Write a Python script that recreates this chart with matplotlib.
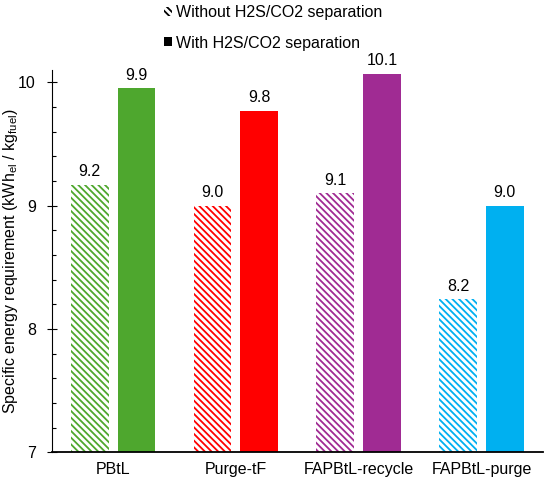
import matplotlib
matplotlib.use("Agg")
import matplotlib.pyplot as plt
from matplotlib.patches import Patch
from matplotlib.ticker import MultipleLocator
import numpy as np

categories = ["PBtL", "Purge-tF", "FAPBtL-recycle", "FAPBtL-purge"]
without_sep = [9.17, 9.00, 9.10, 8.24]
with_sep = [9.95, 9.77, 10.07, 9.00]
colors = ["#4EA72E", "#FF0000", "#A02B93", "#00B0F0"]
series_labels = ["Without H2S/CO2 separation", "With H2S/CO2 separation"]
y_ticks = [7, 8, 9, 10]

plt.rcParams["font.family"] = ["Liberation Sans", "DejaVu Sans"]
plt.rcParams["mathtext.default"] = "regular"
plt.rcParams["hatch.linewidth"] = 1.3

BS = chr(92)
fs = 11.5
fig = plt.figure(figsize=(5.5, 4.86), dpi=100)
ax = fig.add_axes([0.094, 0.0693, 0.893, 0.787])

x = np.arange(len(categories))
w = 0.308
off = 0.19
for i in range(len(categories)):
    ax.bar(x[i] - off, without_sep[i] - 7, bottom=7, width=w, facecolor="white",
           edgecolor=colors[i], linewidth=0, hatch=BS * 5)
    ax.bar(x[i] + off, with_sep[i] - 7, bottom=7, width=w, color=colors[i], linewidth=0)
    ax.annotate(f"{without_sep[i]:.1f}", (x[i] - off, without_sep[i]), xytext=(0, 4),
                textcoords="offset points", ha="center", va="bottom", fontsize=fs)
    ax.annotate(f"{with_sep[i]:.1f}", (x[i] + off, with_sep[i]), xytext=(0, 4),
                textcoords="offset points", ha="center", va="bottom", fontsize=fs)

ax.set_xlim(-0.5, 3.5)
ax.set_ylim(7, 10.1)
ax.set_xticks(x)
ax.set_xticklabels(categories, fontsize=fs)
ax.set_yticks(y_ticks)
ax.set_yticklabels([str(t) for t in y_ticks], fontsize=fs)
ax.yaxis.set_minor_locator(MultipleLocator(0.2))
ax.tick_params(axis="x", length=0, pad=7)
ax.tick_params(axis="y", which="major", direction="inout", length=6.7, width=0.8, pad=8)
ax.tick_params(axis="y", which="minor", direction="in", length=3, width=0.8)
for s in ["top", "right"]:
    ax.spines[s].set_visible(False)
ax.spines["left"].set_linewidth(0.8)
ax.spines["bottom"].set_linewidth(1.3)
ax.set_ylabel("Specific energy requirement (kWh$_{el}$ / kg$_{fuel}$)", fontsize=fs, labelpad=-1)

handles = [Patch(facecolor="white", edgecolor="black", linewidth=0, hatch=BS * 5),
           Patch(facecolor="black", linewidth=0)]
fig.legend(handles, series_labels, loc="center left", bbox_to_anchor=(164 / 550, 1 - 28 / 486),
           frameon=False, fontsize=fs, handlelength=0.5, handleheight=0.5, handletextpad=0.25,
           labelspacing=0.95, borderpad=0, borderaxespad=0)

fig.savefig("out.png", dpi=100)
